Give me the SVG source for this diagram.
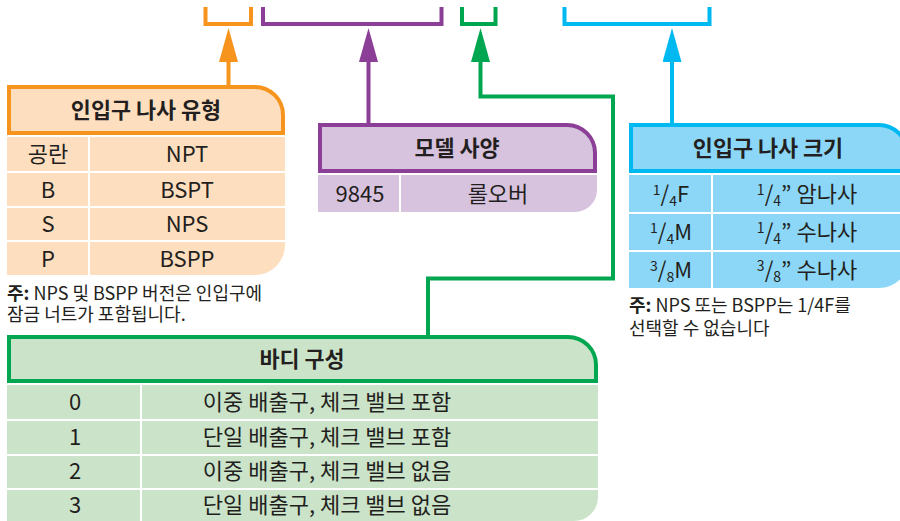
<svg xmlns="http://www.w3.org/2000/svg" width="900" height="521" viewBox="0 0 900 521">
<style>
text{font-family:"Noto Sans CJK KR","Noto Sans",sans-serif;fill:#231F20}
.t{font-size:22px;text-anchor:middle}
.h{font-size:21.8px;font-weight:bold;text-anchor:middle}
.n{font-size:18px}
.b{font-weight:bold}
.sm{font-size:14px}
.div{stroke:#fff;stroke-width:2}
.or{stroke:#F7941D}.pu{stroke:#8B3F96}.gr{stroke:#00A650}.bl{stroke:#00B9F1}
.ln{fill:none;stroke-width:4;stroke-linejoin:miter;stroke-linecap:butt}
</style>
<defs>
<marker id="aOr" markerUnits="userSpaceOnUse" markerWidth="34" markerHeight="19" viewBox="0 0 34 19" refX="0" refY="9.5" orient="auto"><path d="M0,0 L34,9.5 L0,19 Z" fill="#F7941D"/></marker>
<marker id="aPu" markerUnits="userSpaceOnUse" markerWidth="34" markerHeight="19" viewBox="0 0 34 19" refX="0" refY="9.5" orient="auto"><path d="M0,0 L34,9.5 L0,19 Z" fill="#8B3F96"/></marker>
<marker id="aGr" markerUnits="userSpaceOnUse" markerWidth="34" markerHeight="19" viewBox="0 0 34 19" refX="0" refY="9.5" orient="auto"><path d="M0,0 L34,9.5 L0,19 Z" fill="#00A650"/></marker>
<marker id="aBl" markerUnits="userSpaceOnUse" markerWidth="34" markerHeight="19" viewBox="0 0 34 19" refX="0" refY="9.5" orient="auto"><path d="M0,0 L34,9.5 L0,19 Z" fill="#00B9F1"/></marker>
</defs>
<rect width="900" height="521" fill="#fff"/>

<g id="connectors">
<path class="ln or" d="M205.5,7 V24 H251 V7"/>
<path class="ln pu" d="M263,7 V24 H441.5 V7"/>
<path class="ln gr" d="M462,7 V24 H495.5 V7"/>
<path class="ln bl" d="M564.5,7 V24 H709.5 V7"/>
<path class="ln or" d="M228.5,90 V62" marker-end="url(#aOr)"/>
<path class="ln pu" d="M368.5,127 V62" marker-end="url(#aPu)"/>
<path class="ln gr" d="M428,337 V278.5 H613 V96.5 H480.5 V62" marker-end="url(#aGr)"/>
<path class="ln bl" d="M672,127 V62" marker-end="url(#aBl)"/>
</g>

<g id="inlet-type">
<path d="M9,133 V87 H255 A28,28 0 0 1 283,115 V133 Z" fill="#FDDEBF" class="or" stroke-width="4"/>
<text class="h" x="146" y="118">인입구 나사 유형</text>
<rect x="7" y="137" width="278" height="34" fill="#FDDEBF"/>
<rect x="7" y="173" width="278" height="33" fill="#FDDEBF"/>
<rect x="7" y="208" width="278" height="32" fill="#FDDEBF"/>
<path d="M7,242 H285 V245 A30,30 0 0 1 255,275 H7 Z" fill="#FDDEBF"/>
<line class="div" x1="89" y1="135" x2="89" y2="275"/>
<text class="t" x="48" y="162">공란</text><text class="t" x="187" y="162">NPT</text>
<text class="t" x="48" y="197.5">B</text><text class="t" x="187" y="197.5">BSPT</text>
<text class="t" x="48" y="232">S</text><text class="t" x="187" y="232">NPS</text>
<text class="t" x="48" y="266.5">P</text><text class="t" x="187" y="266.5">BSPP</text>
<text class="n" x="7" y="299.5"><tspan class="b">주:</tspan> NPS 및 BSPP 버전은 인입구에<tspan x="7" dy="21">잠금 너트가 포함됩니다.</tspan></text>
</g>

<g id="model">
<path d="M320,171 V125 H567 A28,28 0 0 1 595,153 V171 Z" fill="#D8C3DE" class="pu" stroke-width="4"/>
<text class="h" x="457" y="156">모델 사양</text>
<path d="M318,175 H597 V190 A22,22 0 0 1 575,212 H318 Z" fill="#D8C3DE"/>
<line class="div" x1="400" y1="173" x2="400" y2="212"/>
<text class="t" x="360" y="201.5">9845</text><text class="t" x="498" y="201.5">롤오버</text>
</g>

<g id="inlet-size">
<path d="M631,171 V125 H879 A28,28 0 0 1 907,153 V171 Z" fill="#8CD7F7" class="bl" stroke-width="4"/>
<text class="h" x="768" y="156">인입구 나사 크기</text>
<rect x="629" y="175" width="281" height="37" fill="#8CD7F7"/>
<rect x="629" y="214" width="281" height="36" fill="#8CD7F7"/>
<path d="M629,252 H909 V258 A30,30 0 0 1 879,288 H629 Z" fill="#8CD7F7"/>
<line class="div" x1="712" y1="173" x2="712" y2="288"/>
<text class="t" x="671" y="201.5"><tspan class="sm" dy="-7">1</tspan><tspan dy="7">/</tspan><tspan class="sm" dy="4">4</tspan><tspan dy="-4">F</tspan></text>
<text class="t" x="807" y="201.5"><tspan class="sm" dy="-7">1</tspan><tspan dy="7">/</tspan><tspan class="sm" dy="4">4</tspan><tspan dy="-4">” 암나사</tspan></text>
<text class="t" x="671" y="240"><tspan class="sm" dy="-7">1</tspan><tspan dy="7">/</tspan><tspan class="sm" dy="4">4</tspan><tspan dy="-4">M</tspan></text>
<text class="t" x="807" y="240"><tspan class="sm" dy="-7">1</tspan><tspan dy="7">/</tspan><tspan class="sm" dy="4">4</tspan><tspan dy="-4">” 수나사</tspan></text>
<text class="t" x="671" y="278"><tspan class="sm" dy="-7">3</tspan><tspan dy="7">/</tspan><tspan class="sm" dy="4">8</tspan><tspan dy="-4">M</tspan></text>
<text class="t" x="807" y="278"><tspan class="sm" dy="-7">3</tspan><tspan dy="7">/</tspan><tspan class="sm" dy="4">8</tspan><tspan dy="-4">” 수나사</tspan></text>
<text class="n" x="629" y="311.5"><tspan class="b">주:</tspan> NPS 또는 BSPP는 1/4F를<tspan x="629" dy="23">선택할 수 없습니다</tspan></text>
</g>

<g id="body">
<path d="M9,381 V337 H568 A28,28 0 0 1 596,365 V381 Z" fill="#CBE4C9" class="gr" stroke-width="4"/>
<text class="h" x="302" y="367">바디 구성</text>
<rect x="7" y="385" width="591" height="34" fill="#CBE4C9"/>
<rect x="7" y="421" width="591" height="33" fill="#CBE4C9"/>
<rect x="7" y="456" width="591" height="32" fill="#CBE4C9"/>
<path d="M7,490 H598 V497 A24,24 0 0 1 574,521 H7 Z" fill="#CBE4C9"/>
<line class="div" x1="141" y1="383" x2="141" y2="521"/>
<text class="t" x="75" y="409.5">0</text><text class="t" x="327" y="409.5">이중 배출구, 체크 밸브 포함</text>
<text class="t" x="75" y="444.5">1</text><text class="t" x="327" y="444.5">단일 배출구, 체크 밸브 포함</text>
<text class="t" x="75" y="479">2</text><text class="t" x="327" y="479">이중 배출구, 체크 밸브 없음</text>
<text class="t" x="75" y="513">3</text><text class="t" x="327" y="513">단일 배출구, 체크 밸브 없음</text>
</g>
</svg>
